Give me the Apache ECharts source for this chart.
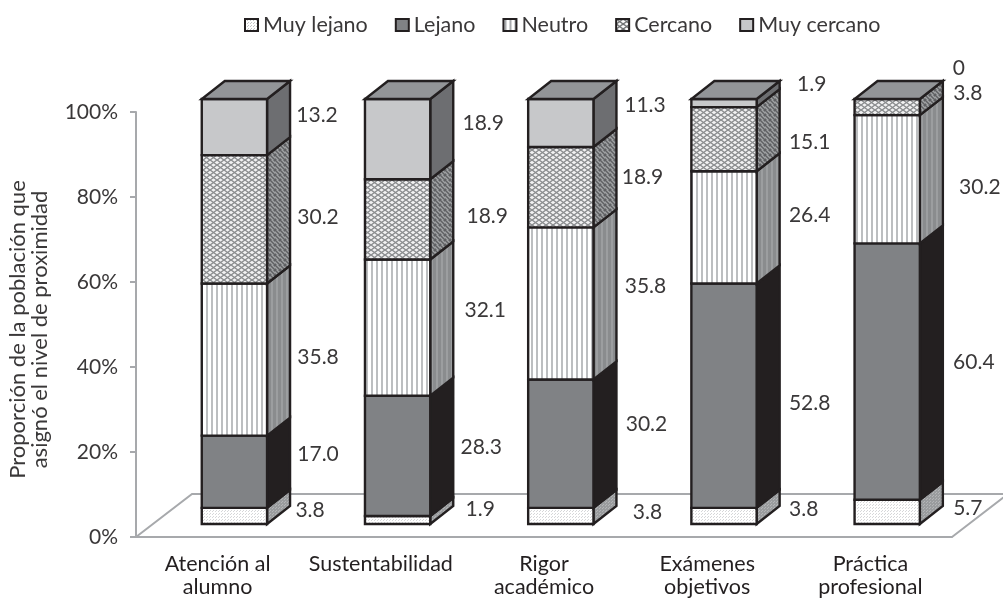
<!DOCTYPE html>
<html><head><meta charset="utf-8">
<script src="https://cdn.jsdelivr.net/npm/echarts@6/dist/echarts.min.js"></script>
<style>html,body{margin:0;padding:0;background:#fff}#c{width:1003px;height:598px}</style>
</head><body><div id="c"></div>
<script>
const categories = ['Atención al\nalumno','Sustentabilidad','Rigor\nacadémico','Exámenes\nobjetivos','Práctica\nprofesional'];
const levels = ['Muy lejano','Lejano','Neutro','Cercano','Muy cercano'];
const muyLejano = [3.8,1.9,3.8,3.8,5.7];
const lejano = [17.0,28.3,30.2,52.8,60.4];
const neutro = [35.8,32.1,35.8,26.4,30.2];
const cercano = [30.2,18.9,18.9,15.1,3.8];
const muyCercano = [13.2,18.9,11.3,1.9,0];
const seriesValues = [muyLejano,lejano,neutro,cercano,muyCercano];
const yTicks = {min:0,max:100,interval:20};

// hand-placed label nudges from the default anchor, per level then category
const labelNudge = [
 [[20,2],[27,-3],[31,4],[24,1],[25,4]],
 [[28,-9],[28,-1],[30,-11],[30,16],[31,-1]],
 [[28,6],[32,-9],[29,-9],[30,-4],[37,16]],
 [[28,6],[34,5],[26,-2],[30,11],[25,-6]],
 [[27,-4],[30,-8],[28.5,-10],[32,-11],[16,-23]]
];

const FONT = 'Lato';
const INK = '#231f20', AXIS = '#a7a9ac', TXT = '#3a3839';
function tile(w,h,draw){const c=document.createElement('canvas');c.width=w;c.height=h;const g=c.getContext('2d');draw(g,w,h);return {image:c,repeat:'repeat'};}
const dots=(bg,fg)=>tile(3,3,(g,w,h)=>{g.fillStyle=bg;g.fillRect(0,0,w,h);g.fillStyle=fg;g.fillRect(0,0,1,1);g.fillRect(2,1,1,1);});
const stripes=(bg,fg)=>tile(5,2,(g,w,h)=>{g.fillStyle=bg;g.fillRect(0,0,w,h);g.fillStyle=fg;g.fillRect(1,0,2,h);});
const lattice=(bg,fg)=>tile(7,5,(g,w,h)=>{g.fillStyle=bg;g.fillRect(0,0,w,h);g.strokeStyle=fg;g.lineWidth=1.4;g.beginPath();g.moveTo(0,0);g.lineTo(7,5);g.moveTo(7,0);g.lineTo(0,5);g.stroke();});
const diag=(bg,fg)=>tile(5,5,(g,w,h)=>{g.fillStyle=bg;g.fillRect(0,0,w,h);g.strokeStyle=fg;g.lineWidth=1.4;g.beginPath();g.moveTo(-1,1);g.lineTo(4,6);g.moveTo(1,-1);g.lineTo(6,4);g.stroke();});
const frontFill = [dots('#ffffff','#d6d7d9'),'#808285',stripes('#ffffff','#bcbec0'),lattice('#f2f2f3','#8a8c8e'),'#c7c8ca'];
const sideFill = [dots('#9a9c9e','#b4b5b7'),INK,stripes('#8a8c8e','#9c9ea0'),diag('#5f6063','#a0a2a4'),'#6d6e71'];
const legendFill = [dots('#ffffff','#c4c5c7'),'#808285',stripes('#ffffff','#a7a9ac'),lattice('#ffffff','#6a6c6e'),'#c7c8ca'];
const TOP = '#939598';

const chart = echarts.init(document.getElementById('c'),null,{renderer:'canvas',width:1003,height:598});

function poly(points,fill,z){return {type:'polygon',z2:z||1,shape:{points},style:{fill,stroke:INK,lineWidth:2.4,lineJoin:'miter'}};}
function renderSeg(level){return function(params,api){
  const i=api.value(0),b=api.value(1),t=api.value(2),raw=api.value(3);
  const band=api.size([1,0])[0];
  const DX=23,DY=-18,SHIFT=-13;
  const p0=api.coord([i,b]),p1=api.coord([i,t]);
  const cx=p0[0]+band*0.103, hw=band*0.2;
  const l=cx-hw,r=cx+hw,yb=p0[1]+SHIFT,yt=p1[1]+SHIFT;
  const kids=[];
  if(raw>0){
    kids.push(poly([[r,yb],[r+DX,yb+DY],[r+DX,yt+DY],[r,yt]],sideFill[level]));
    kids.push(poly([[l,yb],[r,yb],[r,yt],[l,yt]],frontFill[level]));
    const above=seriesValues.slice(level+1).some(a=>a[i]>0);
    if(!above) kids.push(poly([[l,yt],[r,yt],[r+DX,yt+DY],[l+DX,yt+DY]],TOP));
  }
  const n=labelNudge[level][i];
  const mid=api.coord([i,(b+t)/2])[1];
  kids.push({type:'text',z2:5,style:{text:raw===0?'0':raw.toFixed(1),x:r+DX+n[0],y:mid-21+n[1],align:'center',verticalAlign:'middle',font:'21px '+FONT,fill:TXT}});
  return {type:'group',children:kids};
};}

const series=[{type:'custom',name:'suelo',silent:true,z:1,data:[[0,0]],encode:{x:0,y:1},
  renderItem(params,api){
    const g=params.coordSys, x0=g.x, x1=g.x+g.width, y0=g.y+g.height, dx=56, dy=-43;
    const st={fill:'none',stroke:AXIS,lineWidth:2};
    return {type:'polyline',shape:{points:[[x0,y0],[x0+dx,y0+dy],[x1+dx,y0+dy],[x1,y0]]},style:st};
  }}];
levels.forEach((name,l)=>{
  const data=categories.map((c,i)=>{
    const total=seriesValues.reduce((s,a)=>s+a[i],0);
    const before=seriesValues.slice(0,l).reduce((s,a)=>s+a[i],0);
    return [i,before/total*100,(before+seriesValues[l][i])/total*100,seriesValues[l][i]];
  });
  series.push({type:'custom',name,z:2,data,encode:{x:0,y:[1,2]},renderItem:renderSeg(l),silent:true,clip:false,itemStyle:{color:'#808285'}});
});

chart.setOption({
  animation:false,
  backgroundColor:'#fff',
  textStyle:{fontFamily:FONT},
  legend:{left:239,top:9,itemWidth:13,itemHeight:12,itemGap:27,selectedMode:false,
    textStyle:{fontFamily:FONT,fontSize:21.5,color:TXT},
    data:levels.map((name,l)=>({name,icon:'rect',itemStyle:{color:legendFill[l],borderColor:INK,borderWidth:2}}))},
  grid:{left:136,right:51,top:112,bottom:61,containLabel:false,outerBoundsMode:'none'},
  xAxis:{type:'category',data:categories,
    axisLine:{lineStyle:{color:AXIS,width:2}},
    axisTick:{length:5,lineStyle:{color:AXIS,width:2},alignWithLabel:false},
    axisLabel:{fontFamily:FONT,fontSize:21.5,color:'#231f20',lineHeight:23,margin:16,interval:0}},
  yAxis:{type:'value',min:yTicks.min,max:yTicks.max,interval:yTicks.interval,
    name:'Proporción de la población que\nasignó el nivel de proximidad',nameLocation:'middle',nameGap:85,nameRotate:90,
    nameTextStyle:{fontFamily:FONT,fontSize:22,color:TXT,lineHeight:22,padding:[0,10,0,0]},
    axisLine:{show:true,lineStyle:{color:AXIS,width:2}},
    axisTick:{show:true,length:6,lineStyle:{color:AXIS,width:2}},
    splitLine:{show:false},
    axisLabel:{fontFamily:FONT,fontSize:21,color:TXT,margin:18,padding:[4,0,0,0],formatter:'{value}%'}},
  series
});
</script></body></html>
